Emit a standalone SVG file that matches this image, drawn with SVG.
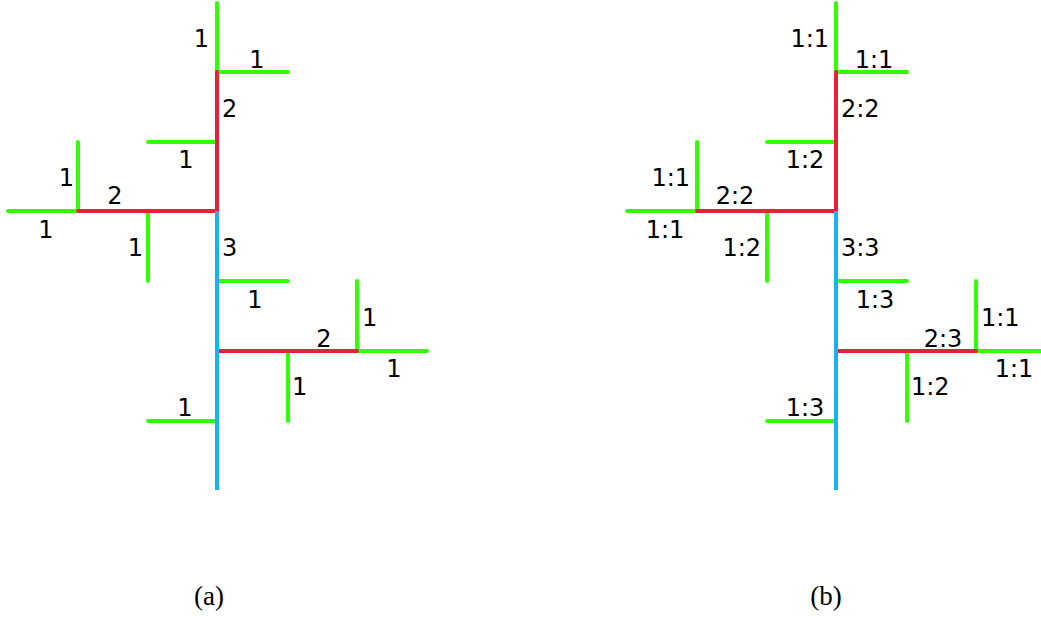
<svg xmlns="http://www.w3.org/2000/svg" width="1041" height="620" viewBox="0 0 1041 620">
<style>
.g{stroke:#33ff00}
.r{stroke:#e8203a}
.b{stroke:#1ab0f5}
line{stroke-width:4;stroke-linecap:round;fill:none}
text{font-family:"DejaVu Sans",sans-serif;font-size:24px;fill:#000}
.cap{font-family:"Liberation Serif",serif;font-size:27px}
.m{text-anchor:middle}
.e{text-anchor:end}
</style>
<defs>
<g id="tree">
<line class="g" x1="217" y1="3" x2="217" y2="72"/>
<line class="g" x1="217" y1="72" x2="288" y2="72"/>
<line class="g" x1="148" y1="142" x2="217" y2="142"/>
<line class="g" x1="8" y1="211" x2="78" y2="211"/>
<line class="g" x1="78" y1="142" x2="78" y2="211"/>
<line class="g" x1="148" y1="211" x2="148" y2="281"/>
<line class="g" x1="217" y1="281" x2="288" y2="281"/>
<line class="g" x1="357" y1="281" x2="357" y2="351"/>
<line class="g" x1="357" y1="351" x2="427" y2="351"/>
<line class="g" x1="288" y1="351" x2="288" y2="421"/>
<line class="g" x1="148" y1="421" x2="217" y2="421"/>
<line class="r" x1="217" y1="72" x2="217" y2="211"/>
<line class="r" x1="78" y1="211" x2="217" y2="211"/>
<line class="r" x1="217" y1="351" x2="357" y2="351"/>
<line class="b" x1="217" y1="211" x2="217" y2="490" style="stroke-linecap:butt"/>
</g>
</defs>
<g id="connectors">
<use href="#tree"/>
<use href="#tree" x="619"/>
</g>
<g id="tree-a">
<text class="e" x="209" y="47">1</text>
<text class="m" x="257" y="68">1</text>
<text x="222" y="117">2</text>
<text class="m" x="186" y="168">1</text>
<text class="e" x="74" y="186">1</text>
<text class="m" x="115" y="204">2</text>
<text class="m" x="46" y="238">1</text>
<text class="e" x="143" y="256">1</text>
<text x="222" y="256">3</text>
<text class="m" x="255" y="308">1</text>
<text x="362" y="326">1</text>
<text class="m" x="324" y="347">2</text>
<text class="m" x="394" y="377">1</text>
<text x="292" y="395">1</text>
<text class="m" x="185" y="416">1</text>
<text class="cap m" x="209" y="605">(a)</text>
</g>
<g id="tree-b">
<text class="e" x="829" y="47">1:1</text>
<text class="m" x="874" y="68">1:1</text>
<text x="841" y="117">2:2</text>
<text class="m" x="805" y="168">1:2</text>
<text class="e" x="690" y="186">1:1</text>
<text class="m" x="735" y="204">2:2</text>
<text class="m" x="665" y="238">1:1</text>
<text class="e" x="761" y="256">1:2</text>
<text x="841" y="256">3:3</text>
<text class="m" x="875" y="308">1:3</text>
<text x="981" y="326">1:1</text>
<text class="m" x="943" y="347">2:3</text>
<text class="m" x="1014" y="377">1:1</text>
<text x="911" y="395">1:2</text>
<text class="m" x="805" y="416">1:3</text>
<text class="cap m" x="826" y="605">(b)</text>
</g>
</svg>
